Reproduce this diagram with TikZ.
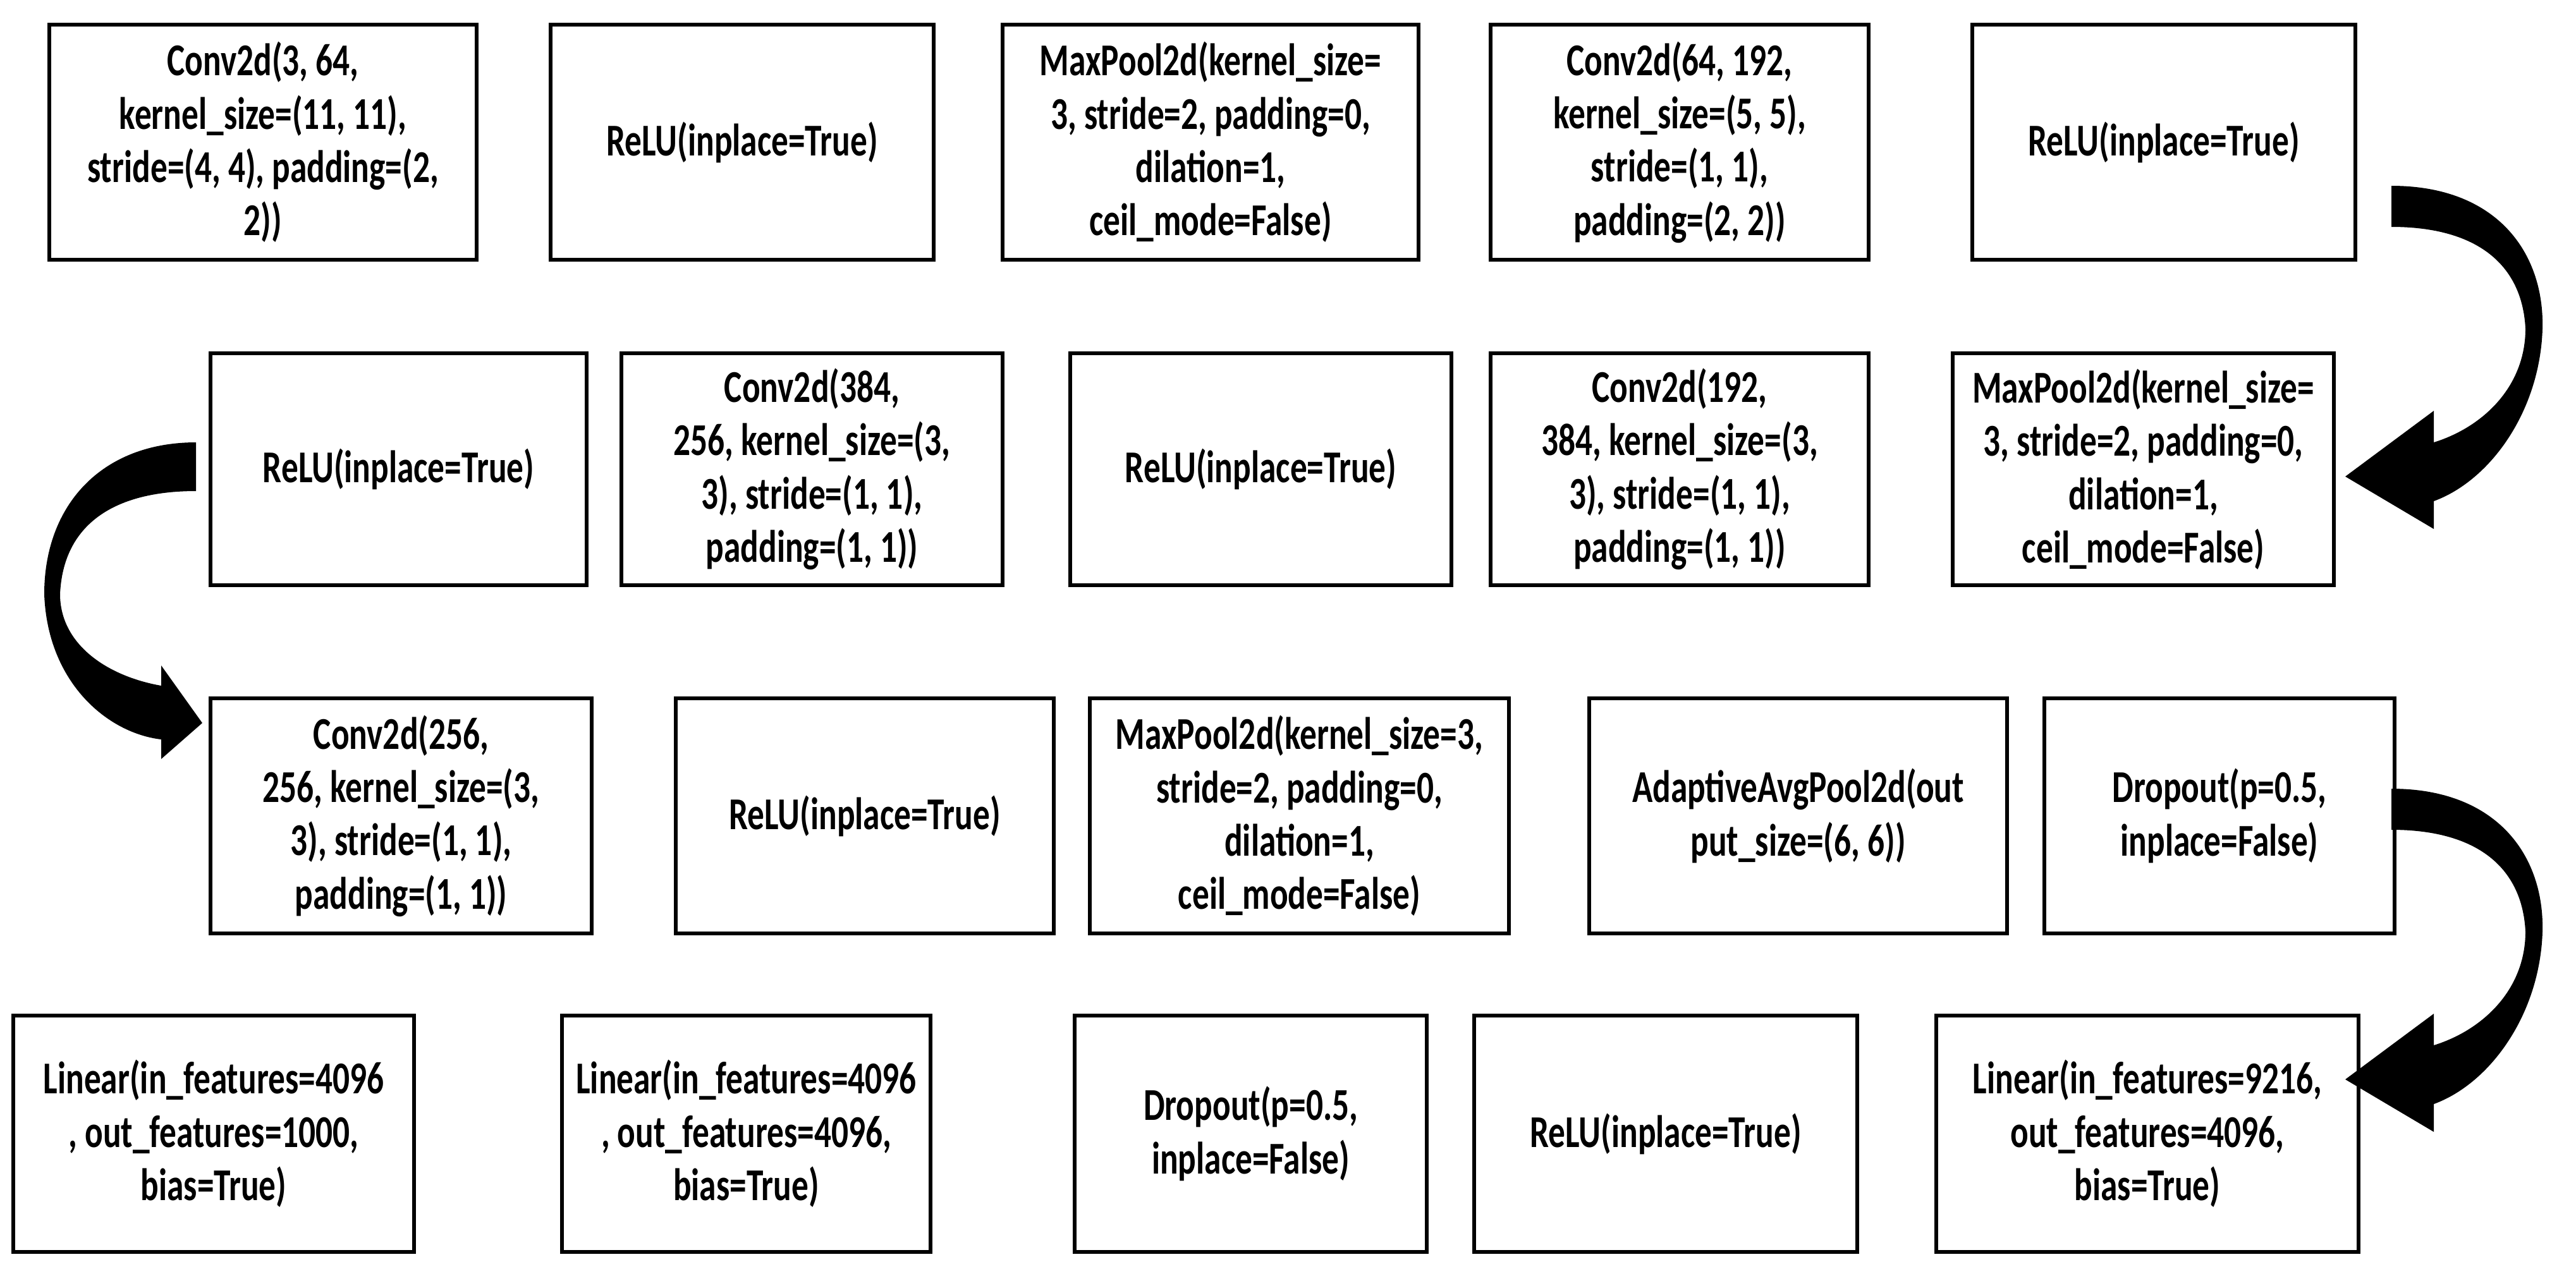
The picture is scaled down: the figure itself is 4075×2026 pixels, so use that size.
\documentclass[tikz,border=0pt]{standalone}
\usepackage{fontspec}
\setmainfont{Carlito}[FakeStretch=0.74]
\begin{document}
\begin{tikzpicture}[x=0.01cm,y=-0.01cm,
  bx/.style={draw,line width=1.5pt,align=center,inner sep=0pt,font=\fontsize{20.5}{24}\selectfont\bfseries},
  cur/.style={fill=black}]
\useasboundingbox (0,0) rectangle (4075,2026);
\newcommand\bxx[6]{\node[bx,minimum width={(#3-#2)*0.01cm},minimum height={(#5-#4)*0.01cm}] (#1) at ({(#2+#3)/2},{(#4+#5)/2}) {#6};}
% row 1
\bxx{a1}{78}{754}{39}{411}{Conv2d(3, 64,\\kernel\_size=(11, 11),\\stride=(4, 4), padding=(2,\\2))}
\bxx{a2}{871}{1477}{39}{411}{ReLU(inplace=True)}
\bxx{a3}{1586}{2244}{39}{411}{MaxPool2d(kernel\_size=\\3, stride=2, padding=0,\\dilation=1,\\ceil\_mode=False)}
\bxx{a4}{2358}{2956}{39}{411}{Conv2d(64, 192,\\kernel\_size=(5, 5),\\stride=(1, 1),\\padding=(2, 2))}
\bxx{a5}{3120}{3726}{39}{411}{ReLU(inplace=True)}
% row 2
\bxx{b1}{333}{928}{559}{926}{ReLU(inplace=True)}
\bxx{b2}{983}{1586}{559}{926}{Conv2d(384,\\256, kernel\_size=(3,\\3), stride=(1, 1),\\padding=(1, 1))}
\bxx{b3}{1693}{2296}{559}{926}{ReLU(inplace=True)}
\bxx{b4}{2358}{2956}{559}{926}{Conv2d(192,\\384, kernel\_size=(3,\\3), stride=(1, 1),\\padding=(1, 1))}
\bxx{b5}{3089}{3692}{559}{926}{MaxPool2d(kernel\_size=\\3, stride=2, padding=0,\\dilation=1,\\ceil\_mode=False)}
% row 3
\bxx{c1}{333}{936}{1105}{1477}{Conv2d(256,\\256, kernel\_size=(3,\\3), stride=(1, 1),\\padding=(1, 1))}
\bxx{c2}{1069}{1667}{1105}{1477}{ReLU(inplace=True)}
\bxx{c3}{1724}{2387}{1105}{1477}{MaxPool2d(kernel\_size=3,\\stride=2, padding=0,\\dilation=1,\\ceil\_mode=False)}
\bxx{c4}{2514}{3175}{1105}{1477}{AdaptiveAvgPool2d(out\\put\_size=(6, 6))}
\bxx{c5}{3234}{3788}{1105}{1477}{Dropout(p=0.5,\\inplace=False)}
% row 4
\bxx{d1}{21}{655}{1607}{1981}{Linear(in\_features=4096\\, out\_features=1000,\\bias=True)}
\bxx{d2}{889}{1472}{1607}{1981}{Linear(in\_features=4096\\, out\_features=4096,\\bias=True)}
\bxx{d3}{1700}{2257}{1607}{1981}{Dropout(p=0.5,\\inplace=False)}
\bxx{d4}{2332}{2938}{1607}{1981}{ReLU(inplace=True)}
\bxx{d5}{3063}{3731}{1607}{1981}{Linear(in\_features=9216,\\out\_features=4096,\\bias=True)}
% curved arrows
\newcommand\curvearrow{(3783,294) .. controls (3950,294) and (4025,400) .. (4022,520) .. controls (4018,650) and (3940,760) .. (3850,793) -- (3850,837) -- (3710,754) -- (3850,650) -- (3850,700) .. controls (3930,675) and (3995,610) .. (3995,520) .. controls (3990,420) and (3920,359) .. (3783,359) -- cycle}
\fill[cur] \curvearrow;
\fill[cur,shift={(0,954)}] \curvearrow;
\fill[cur] (310,700) .. controls (160,700) and (70,800) .. (70,940) .. controls (75,1080) and (170,1160) .. (255,1170) -- (255,1201) -- (320,1144) -- (255,1053) -- (255,1085) .. controls (170,1070) and (95,1020) .. (95,940) .. controls (100,830) and (180,777) .. (310,777) -- cycle;
\end{tikzpicture}
\end{document}
